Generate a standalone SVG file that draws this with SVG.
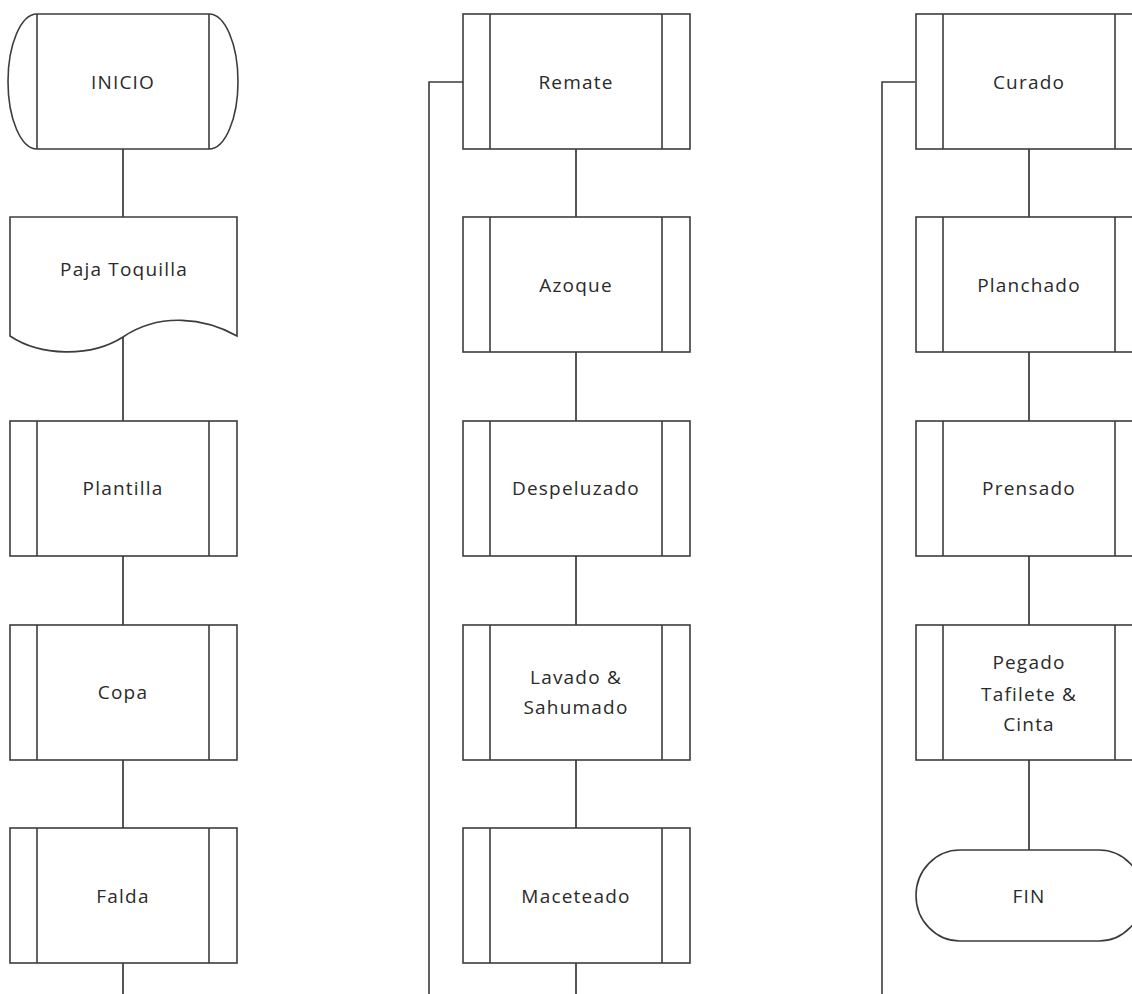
<svg xmlns="http://www.w3.org/2000/svg" width="1132" height="994" viewBox="0 0 1132 994">
<style>
.s{fill:#fff;stroke:#3c3c3c;stroke-width:1.6}
.l{fill:none;stroke:#3c3c3c;stroke-width:1.6}
.c{fill:none;stroke:#555;stroke-width:2}
.t{font-family:"Open Sans",sans-serif;font-size:19px;fill:#2a2a2a;text-anchor:middle;dominant-baseline:central;letter-spacing:1.2px}
</style>
<defs>
<g id="proc">
<rect class="s" x="0" y="0" width="227" height="135"/>
<line class="l" x1="27" y1="0" x2="27" y2="135"/>
<line class="l" x1="199" y1="0" x2="199" y2="135"/>
</g>
</defs>
<rect width="1132" height="994" fill="#fff"/>
<g id="connectors">
<line class="c" x1="123" y1="149" x2="123" y2="217"/>
<line class="c" x1="123" y1="337" x2="123" y2="421"/>
<line class="c" x1="123" y1="555" x2="123" y2="625"/>
<line class="c" x1="123" y1="759" x2="123" y2="828"/>
<line class="c" x1="123" y1="963" x2="123" y2="994"/>
<polyline class="l" points="463,82 429,82 429,994"/>
<line class="c" x1="576" y1="149" x2="576" y2="217"/>
<line class="c" x1="576" y1="352" x2="576" y2="421"/>
<line class="c" x1="576" y1="555" x2="576" y2="625"/>
<line class="c" x1="576" y1="759" x2="576" y2="828"/>
<line class="c" x1="576" y1="963" x2="576" y2="994"/>
<polyline class="l" points="915,82 882,82 882,994"/>
<line class="c" x1="1029" y1="149" x2="1029" y2="217"/>
<line class="c" x1="1029" y1="352" x2="1029" y2="421"/>
<line class="c" x1="1029" y1="555" x2="1029" y2="625"/>
<line class="c" x1="1029" y1="759" x2="1029" y2="850"/>
</g>
<g id="inicio">
<path class="s" d="M37,14 L209,14 A29,67.5 0 0 1 209,149 L37,149 A29,67.5 0 0 1 37,14 Z"/>
<line class="l" x1="37" y1="14" x2="37" y2="149"/>
<line class="l" x1="209" y1="14" x2="209" y2="149"/>
<text class="t" x="123" y="82">INICIO</text>
</g>
<g id="paja">
<path class="s" d="M10,217 L237,217 L237,336 C205,318 160,312 123,337 C90,358 40,356 10,336 Z"/>
<text class="t" x="124" y="269">Paja Toquilla</text>
</g>
<g id="plantilla"><use href="#proc" x="10" y="421"/><text class="t" x="123" y="488">Plantilla</text></g>
<g id="copa"><use href="#proc" x="10" y="625"/><text class="t" x="123" y="692">Copa</text></g>
<g id="falda"><use href="#proc" x="10" y="828"/><text class="t" x="123" y="896">Falda</text></g>
<g id="remate"><use href="#proc" x="463" y="14"/><text class="t" x="576" y="82">Remate</text></g>
<g id="azoque"><use href="#proc" x="463" y="217"/><text class="t" x="576" y="285">Azoque</text></g>
<g id="despeluzado"><use href="#proc" x="463" y="421"/><text class="t" x="576" y="488">Despeluzado</text></g>
<g id="lavado"><use href="#proc" x="463" y="625"/><text class="t" x="576" y="677">Lavado &amp;</text><text class="t" x="576" y="707">Sahumado</text></g>
<g id="maceteado"><use href="#proc" x="463" y="828"/><text class="t" x="576" y="896">Maceteado</text></g>
<g id="curado"><use href="#proc" x="916" y="14"/><text class="t" x="1029" y="82">Curado</text></g>
<g id="planchado"><use href="#proc" x="916" y="217"/><text class="t" x="1029" y="285">Planchado</text></g>
<g id="prensado"><use href="#proc" x="916" y="421"/><text class="t" x="1029" y="488">Prensado</text></g>
<g id="pegado"><use href="#proc" x="916" y="625"/><text class="t" x="1029" y="662">Pegado</text><text class="t" x="1029" y="694">Tafilete &amp;</text><text class="t" x="1029" y="724">Cinta</text></g>
<g id="fin">
<rect class="s" x="916" y="850" width="227" height="91" rx="44" ry="45.5"/>
<text class="t" x="1029" y="896">FIN</text>
</g>
</svg>
